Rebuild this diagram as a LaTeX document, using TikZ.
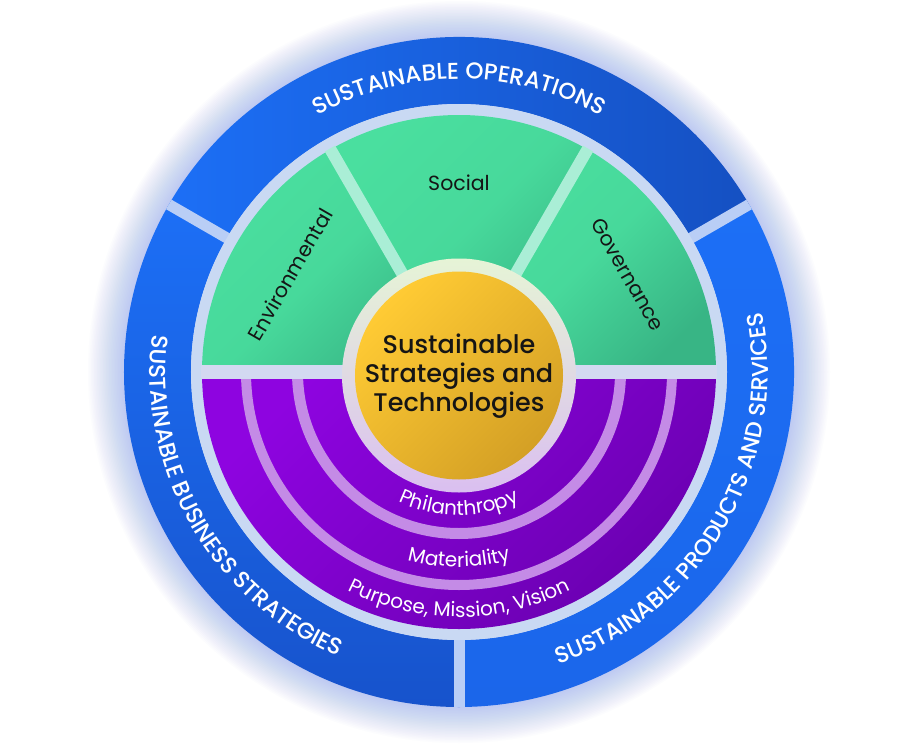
\documentclass[tikz,border=0pt]{standalone}
\usepackage{fontspec}
\setmainfont{Poppins}
\newfontfamily\popmed{Poppins Medium}
\usetikzlibrary{decorations.text}
\definecolor{blueA}{HTML}{1C6FF6}
\definecolor{blueB}{HTML}{1550C2}
\definecolor{blueC}{HTML}{1753CC}
\definecolor{blueD}{HTML}{1B66EA}
\definecolor{palering}{HTML}{C9D9F3}
\definecolor{gapblue}{HTML}{B9CEF6}
\definecolor{greenA}{HTML}{4ADF9F}
\definecolor{greenB}{HTML}{38B585}
\definecolor{mint}{HTML}{AAEED6}
\definecolor{hgap}{HTML}{D3D9F1}
\definecolor{purpA}{HTML}{8E04E0}
\definecolor{purpB}{HTML}{6A00B0}
\definecolor{lav}{HTML}{C48BE6}
\definecolor{haloA}{HTML}{E6F4D6}
\definecolor{haloB}{HTML}{DABFF0}
\definecolor{yelA}{HTML}{FFCB34}
\definecolor{yelB}{HTML}{D4A025}
\definecolor{glow}{HTML}{6A8CF2}
\definecolor{ink}{HTML}{151515}
\begin{document}
\begin{tikzpicture}[x=1pt,y=1pt,
  greenlbl/.style={font=\fontsize{20.5}{20.5}\selectfont, text=ink, inner sep=0pt},
  centerlbl/.style={font=\popmed\fontsize{25.5}{29}\selectfont, text=ink, align=center, inner sep=0pt},
  ringtext/.style={decorate, decoration={text along path, text align=center, text color=white, text={|\popmed\fontsize{23}{23}\selectfont|#1}}},
  bandtext/.style={decorate, decoration={text along path, text align=center, text color=white, text={|\fontsize{20}{20}\selectfont|#1}}}
]
\useasboundingbox (-459,-378) rectangle (461,372);
\fill[white] (-459,-378) rectangle (461,372);
% glow
\foreach \i in {1,...,24} \fill[glow, opacity=0.018] (0,0) circle (335+1.5*\i);
% blue segments
\shade[left color=blueA, right color=blueB]
  (30:268) arc[start angle=30,end angle=150,radius=268] -- (150:335) arc[start angle=150,end angle=30,radius=335] -- cycle;
\shade[top color=blueA, bottom color=blueC]
  (150:268) arc[start angle=150,end angle=270,radius=268] -- (270:335) arc[start angle=270,end angle=150,radius=335] -- cycle;
\shade[top color=blueA, bottom color=blueD]
  (270:268) arc[start angle=270,end angle=390,radius=268] -- (30:335) arc[start angle=30,end angle=-90,radius=335] -- cycle;
\begin{scope}
  \clip (0,0) circle (335);
  \foreach \a in {30,150,270} \draw[gapblue, line width=11] (\a:255) -- (\a:340);
\end{scope}
\fill[palering] (0,0) circle (268);
% green sectors
\foreach \a/\b in {0/60,60/120,120/180}
  \shade[top color=greenA, bottom color=greenB, middle color=greenA!85!greenB, shading angle=45]
    (0,0) -- (\a:257) arc[start angle=\a,end angle=\b,radius=257] -- cycle;
\foreach \a in {60,120} \draw[mint, line width=12] (0,0) -- (\a:258);
% purple half
\shade[top color=purpA, bottom color=purpB, shading angle=45]
  (-257,0) arc[start angle=180,end angle=360,radius=257] -- cycle;
\draw[lav, line width=11] (-161.5,0) arc[start angle=180,end angle=360,radius=161.5];
\draw[lav, line width=10] (-213,0) arc[start angle=180,end angle=360,radius=213];
\draw[hgap, line width=14] (-258,0) -- (258,0);
% center
\shade[top color=haloA, bottom color=haloB] (0,-3.5) circle (117);
\shade[top color=yelA, middle color=yelA, bottom color=yelB, shading angle=45] (0,-3.5) circle (104);
\node[centerlbl] (core) at (0,-4) {Sustainable\\Strategies and\\Technologies};
% green labels
\node[greenlbl, rotate=60] (env) at (150:195) {Environmental};
\node[greenlbl] (soc) at (90:189) {Social};
\node[greenlbl, rotate=-60] (gov) at (30:195) {Governance};
% purple band labels
\path[bandtext={Philanthropy}] (190:143) arc[start angle=190,end angle=350,radius=143];
\path[bandtext={Materiality}] (190:195) arc[start angle=190,end angle=350,radius=195];
\path[bandtext={Purpose, Mission, Vision}] (190:245) arc[start angle=190,end angle=350,radius=245];
% blue ring labels
\path[ringtext={SUSTAINABLE OPERATIONS}] (150:293) arc[start angle=150,end angle=30,radius=293];
\path[ringtext={SUSTAINABLE BUSINESS STRATEGIES}] (150:309) arc[start angle=150,end angle=270,radius=309];
\path[ringtext={SUSTAINABLE PRODUCTS AND SERVICES}] (270:309) arc[start angle=270,end angle=390,radius=309];
\end{tikzpicture}
\end{document}
